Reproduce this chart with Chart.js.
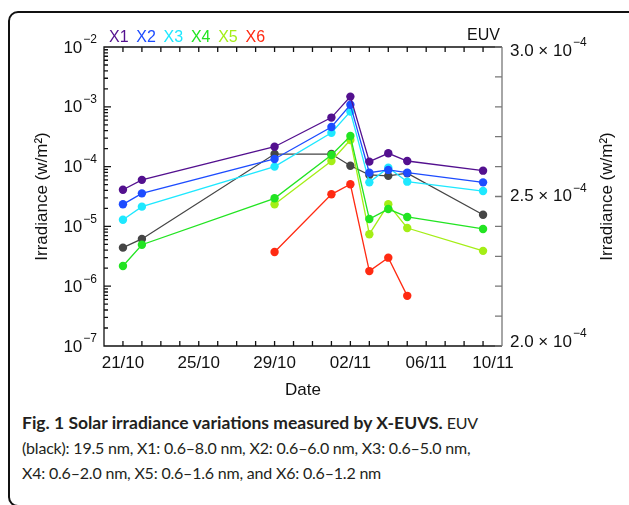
<!DOCTYPE html>
<html>
<head>
<meta charset="utf-8">
<script src="https://cdn.jsdelivr.net/npm/chart.js@4.4.0/dist/chart.umd.min.js"></script>
<style>
  body { margin:0; background:#fff; width:629px; height:505px; overflow:hidden; position:relative; }
  #frame { position:absolute; left:8px; top:11px; width:700px; height:496px; box-sizing:border-box; border:2.5px solid #111; border-radius:10px; }
  #chart { position:absolute; left:0; top:0; }
  #caption { position:absolute; left:22px; top:410px; font-family:Lato; font-size:16px; letter-spacing:-0.2px; line-height:25px; color:#231f20; white-space:nowrap; }
  #caption b { font-size:17.5px; letter-spacing:0; }
</style>
</head>
<body>
<div id="frame"></div>
<canvas id="chart" width="629" height="400"></canvas>
<div id="caption"><b>Fig. 1 Solar irradiance variations measured by X-EUVS.</b> EUV<br>(black): 19.5 nm, X1: 0.6–8.0 nm, X2: 0.6–6.0 nm, X3: 0.6–5.0 nm,<br>X4: 0.6–2.0 nm, X5: 0.6–1.6 nm, and X6: 0.6–1.2 nm</div>
<script>
// dates of the measurements (dd/mm)
var dates = ['21/10', '22/10', '29/10', '01/11', '02/11', '03/11', '04/11', '05/11', '09/11'];
// irradiance in w/m2, left (log) axis
var x1 = [4.1e-5, 6.0e-5, 2.15e-4, 6.6e-4, 1.48e-3, 1.21e-4, 1.67e-4, 1.24e-4, 8.55e-5];
var x2 = [2.34e-5, 3.57e-5, 1.34e-4, 4.6e-4, 1.08e-3, 7.9e-5, 8.8e-5, 7.9e-5, 5.45e-5];
var x3 = [1.29e-5, 2.14e-5, 1.0e-4, 3.69e-4, 8.3e-4, 5.45e-5, 9.6e-5, 5.6e-5, 3.9e-5];
var x4 = [2.18e-6, 4.94e-6, 2.95e-5, 1.56e-4, 3.25e-4, 1.33e-5, 1.95e-5, 1.44e-5, 9.06e-6];
var x5 = [null, null, 2.34e-5, 1.24e-4, 2.79e-4, 7.4e-6, 2.34e-5, 9.4e-6, 3.9e-6];
var x6 = [null, null, 3.73e-6, 3.44e-5, 5.06e-5, 1.79e-6, 3.0e-6, 6.9e-7, null];
// EUV 19.5 nm, right (linear) axis
var euv = [2.329e-4, 2.358e-4, 2.642e-4, 2.642e-4, 2.603e-4, 2.572e-4, 2.569e-4, 2.578e-4, 2.439e-4];
// tick labels
var xTickLabels = ['21/10', '25/10', '29/10', '02/11', '06/11', '10/11'];
var leftExps = [-2, -3, -4, -5, -6, -7];
var rightTicks = [2.0e-4, 2.5e-4, 3.0e-4];

var FONT = '"Liberation Sans", Arial, sans-serif';

// day number counted from 20/10
function dayOf(s) {
    var p = s.split('/');
    var d = parseInt(p[0], 10), m = parseInt(p[1], 10);
    return m == 10 ? d - 20 : d + 11;
}

function pts(vals) {
    return dates.map(function(d, i) { return {x: dayOf(d), y: vals[i]}; });
}

function series(label, vals, color, axis) {
    return {
        label: label,
        data: pts(vals),
        yAxisID: axis,
        borderColor: color,
        backgroundColor: color,
        borderWidth: 1.3,
        pointRadius: 4.2,
        pointBorderWidth: 0,
        pointHoverRadius: 4.2,
        spanGaps: false
    };
}

function drawPow(ctx, base, exp, x, y, align) {
    ctx.font = '17px ' + FONT;
    var w1 = ctx.measureText(base).width;
    ctx.font = '12px ' + FONT;
    var w2 = ctx.measureText(exp).width;
    var x0 = align === 'right' ? x - w1 - w2 - 1 : x;
    ctx.textAlign = 'left';
    ctx.textBaseline = 'middle';
    ctx.font = '17px ' + FONT;
    ctx.fillText(base, x0, y);
    ctx.font = '12px ' + FONT;
    ctx.fillText(exp, x0 + w1 + 1, y - 8);
}

var overlay = {
    id: 'overlay',
    afterDraw: function(chart) {
        var ctx = chart.ctx, a = chart.chartArea;
        var xs = chart.scales.x, ys = chart.scales.y, yr = chart.scales.y1;
        ctx.save();
        ctx.lineWidth = 1.3;
        ctx.strokeStyle = '#111';
        ctx.beginPath();
        ctx.moveTo(a.right, a.top); ctx.lineTo(a.left, a.top);
        ctx.lineTo(a.left, a.bottom); ctx.lineTo(a.right, a.bottom);
        // day ticks, bottom and top
        for (var d = xs.min + 1; d < xs.max; d++) {
            var px = xs.getPixelForValue(d);
            ctx.moveTo(px, a.bottom); ctx.lineTo(px, a.bottom - 5);
            ctx.moveTo(px, a.top); ctx.lineTo(px, a.top + 5);
        }
        // log ticks, left
        for (var e = -7; e < -2; e++) {
            for (var k = 1; k < 10; k++) {
                var py = ys.getPixelForValue(k * Math.pow(10, e));
                if (k > 1 || e > -7) { ctx.moveTo(a.left, py); ctx.lineTo(a.left + (k == 1 ? 7 : 4), py); }
            }
        }
        ctx.stroke();
        // right axis
        ctx.strokeStyle = '#777';
        ctx.beginPath();
        ctx.moveTo(a.right, a.top); ctx.lineTo(a.right, a.bottom);
        yr.ticks.forEach(function(t) {
            var py = yr.getPixelForValue(t.value);
            ctx.moveTo(a.right, py); ctx.lineTo(a.right - 7, py);
        });
        ctx.stroke();

        ctx.fillStyle = '#111';
        leftExps.forEach(function(e) {
            drawPow(ctx, '10', '\u2212' + (-e), a.left - 7, ys.getPixelForValue(Math.pow(10, e)) + 1, 'right');
        });
        rightTicks.forEach(function(v) {
            var m = (v * 1e4).toFixed(1);
            var py = Math.min(Math.max(yr.getPixelForValue(v), a.top + 4), a.bottom - 4);
            drawPow(ctx, m + ' \u00d7 10', '\u22124', a.right + 8, py, 'left');
        });

        // date labels, the last one kept inside the frame
        ctx.font = '17px ' + FONT;
        ctx.textAlign = 'center';
        ctx.textBaseline = 'middle';
        xTickLabels.forEach(function(l) {
            var px = Math.min(xs.getPixelForValue(dayOf(l)), a.right - 9);
            ctx.fillText(l, px, a.bottom + 17);
        });

        // legend names
        ctx.font = '16px ' + FONT;
        ctx.textAlign = 'left';
        chart.data.datasets.forEach(function(ds, i) {
            if (ds.label == 'EUV') return;
            ctx.fillStyle = ds.borderColor;
            ctx.fillText(ds.label, 109 + i * 27.3, 38);
        });
        ctx.fillStyle = '#111';
        ctx.textAlign = 'right';
        ctx.fillText('EUV', a.right - 2, 36);

        // axis titles
        ctx.font = '17px ' + FONT;
        ctx.textAlign = 'center';
        ctx.fillText('Date', (a.left + a.right) / 2, 390);
        var mid = (a.top + a.bottom) / 2;
        [42, 607].forEach(function(cx) {
            ctx.save();
            ctx.translate(cx, mid);
            ctx.rotate(-Math.PI / 2);
            ctx.fillText('Irradiance (w/m\u00b2)', 0, 0);
            ctx.restore();
        });
        ctx.restore();
    }
};

var ctx = document.getElementById('chart').getContext('2d');
var chart = new Chart(ctx, {
    type: 'line',
    data: {
        datasets: [
            series('X1', x1, '#53108f', 'y'),
            series('X2', x2, '#1d4cff', 'y'),
            series('X3', x3, '#1ee8ff', 'y'),
            series('X4', x4, '#22e422', 'y'),
            series('X5', x5, '#a4ee16', 'y'),
            series('X6', x6, '#ff2a12', 'y'),
            series('EUV', euv, '#454545', 'y1')
        ]
    },
    options: {
        responsive: false,
        animation: false,
        layout: { padding: { top: 47, bottom: 0, left: 0, right: 0 } },
        plugins: { legend: { display: false }, tooltip: { enabled: false } },
        scales: {
            x: {
                type: 'linear',
                min: 0,
                max: 21,
                grid: { display: false, drawTicks: false },
                border: { display: false },
                ticks: { display: false },
                afterFit: function(s) { s.height = 54; }
            },
            y: {
                type: 'logarithmic',
                position: 'left',
                min: 1e-7,
                max: 1e-2,
                grid: { display: false, drawTicks: false },
                border: { display: false },
                ticks: { display: false },
                afterFit: function(s) { s.width = 104; }
            },
            y1: {
                type: 'linear',
                position: 'right',
                min: 2.0e-4,
                max: 3.0e-4,
                grid: { display: false, drawTicks: false },
                border: { display: false },
                ticks: { display: false, stepSize: 1e-5 },
                afterFit: function(s) { s.width = 127; }
            }
        }
    },
    plugins: [overlay]
});
</script>
</body>
</html>
